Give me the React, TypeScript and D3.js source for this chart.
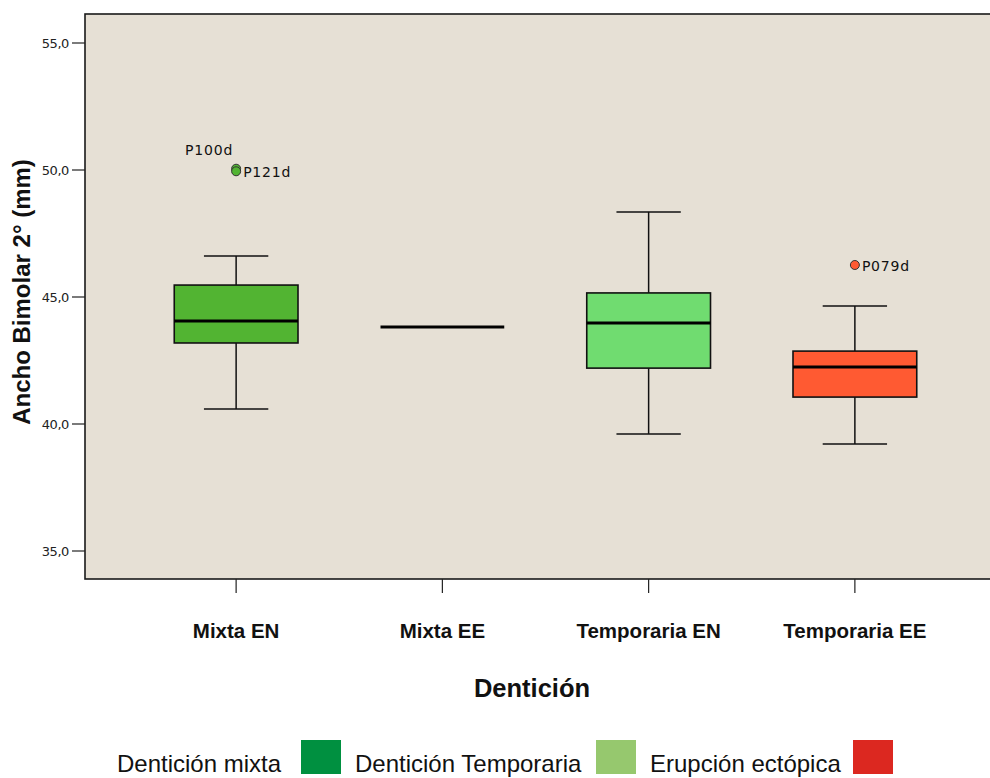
import React from "react";
import * as d3 from "d3";

const categories = ["Mixta EN", "Mixta EE", "Temporaria EN", "Temporaria EE"];
const whiskerLow = [40.59, 43.82, 39.61, 39.21];
const q1 = [43.19, 43.82, 42.2, 41.06];
const median = [44.06, 43.82, 43.98, 42.24];
const q3 = [45.47, 43.82, 45.16, 42.87];
const whiskerHigh = [46.61, 43.82, 48.35, 44.65];
const boxColors = ["#52B432", "#70DC70", "#70DC70", "#FF5A32"];

const outlierCats = ["Mixta EN", "Mixta EN", "Temporaria EE"];
const outlierValues = [50.05, 49.95, 46.26];
const outlierLabels = ["P100d", "P121d", "P079d"];
const outlierLabelSide = ["left", "right", "right"];

const yTicks = [35, 40, 45, 50, 55];
const yTickLabels = ["35,0", "40,0", "45,0", "50,0", "55,0"];

const legendLabels = ["Dentición mixta", "Dentición Temporaria", "Erupción ectópica"];
const legendColors = ["#009040", "#96C86E", "#DC2820"];

export default function App() {
  const W = 990, H = 778;
  const plotLeft = 85, plotTop = 14, plotBottom = 579, plotRight = 992;
  const y = d3.scaleLinear().domain([35, 55]).range([551, 43]);
  const x = d3.scaleBand().domain(categories).range([133, 958]).padding(0);
  const cx = (c: string) => (x(c) as number) + x.bandwidth() / 2;
  const boxW = x.bandwidth() * 0.6;
  const capW = boxW * 0.52;

  const legendTextX = [117, 355, 650];
  const legendBoxX = [301, 596, 853];

  return (
    <svg width={W} height={H} style={{ position: "absolute", left: 0, top: 0, background: "#fff" }}
      fontFamily="Liberation Sans, Arial, sans-serif">
      <rect x={plotLeft} y={plotTop} width={plotRight - plotLeft} height={plotBottom - plotTop}
        fill="#E6E0D5" stroke="#1a1a1a" strokeWidth={1.6} />
      {/* y axis ticks */}
      {yTicks.map((t, i) => (
        <g key={t}>
          <line x1={72} x2={plotLeft} y1={y(t)} y2={y(t)} stroke="#222" strokeWidth={1.2} />
          <text x={69} y={y(t) + 4.5} textAnchor="end" fontSize={13} fill="#222"
            fontFamily="DejaVu Sans, sans-serif" letterSpacing={-0.4}>{yTickLabels[i]}</text>
        </g>
      ))}
      {/* x ticks */}
      {categories.map((c) => (
        <g key={c}>
          <line x1={cx(c)} x2={cx(c)} y1={plotBottom} y2={593} stroke="#222" strokeWidth={1.2} />
          <text x={cx(c)} y={638} textAnchor="middle" fontSize={20.5} fontWeight="bold" fill="#111">{c}</text>
        </g>
      ))}
      {/* boxes */}
      {categories.map((c, i) => {
        const xc = cx(c);
        const single = q1[i] === q3[i];
        return (
          <g key={"b" + c}>
            {!single && (
              <>
                <line x1={xc} x2={xc} y1={y(whiskerHigh[i])} y2={y(q3[i])} stroke="#111" strokeWidth={1.5} />
                <line x1={xc} x2={xc} y1={y(q1[i])} y2={y(whiskerLow[i])} stroke="#111" strokeWidth={1.5} />
                <line x1={xc - capW / 2} x2={xc + capW / 2} y1={y(whiskerHigh[i])} y2={y(whiskerHigh[i])} stroke="#111" strokeWidth={1.5} />
                <line x1={xc - capW / 2} x2={xc + capW / 2} y1={y(whiskerLow[i])} y2={y(whiskerLow[i])} stroke="#111" strokeWidth={1.5} />
                <rect x={xc - boxW / 2} y={y(q3[i])} width={boxW} height={y(q1[i]) - y(q3[i])}
                  fill={boxColors[i]} stroke="#111" strokeWidth={1.6} />
              </>
            )}
            <line x1={xc - boxW / 2} x2={xc + boxW / 2} y1={y(median[i])} y2={y(median[i])} stroke="#000" strokeWidth={3} />
          </g>
        );
      })}
      {/* outliers */}
      {outlierValues.map((v, i) => {
        const c = outlierCats[i];
        const xc = cx(c);
        const col = boxColors[categories.indexOf(c)];
        return (
          <g key={"o" + i}>
            <circle cx={xc} cy={y(v)} r={4.5} fill={col} stroke="#333" strokeWidth={1} />
            {outlierLabelSide[i] === "left" ? (
              <text x={xc - 3} y={y(v) - 14} textAnchor="end" fontSize={14} fill="#111"
                letterSpacing={0.8} fontFamily="DejaVu Sans, sans-serif">{outlierLabels[i]}</text>
            ) : (
              <text x={xc + 7} y={y(v) + 6} textAnchor="start" fontSize={14} fill="#111"
                letterSpacing={0.8} fontFamily="DejaVu Sans, sans-serif">{outlierLabels[i]}</text>
            )}
          </g>
        );
      })}
      {/* axis titles */}
      <text transform={`translate(30,292) rotate(-90)`} textAnchor="middle"
        fontSize={24} fontWeight="bold" fill="#111">
        Ancho Bimolar 2° (mm)
      </text>
      <text x={532} y={697} textAnchor="middle" fontSize={25.5} fontWeight="bold" fill="#111">Dentición</text>
      {/* legend */}
      {legendLabels.map((l, i) => (
        <g key={l}>
          <text x={legendTextX[i]} y={772} fontSize={24} fill="#111">{l}</text>
          <rect x={legendBoxX[i]} y={740} width={40} height={34} fill={legendColors[i]} />
        </g>
      ))}
    </svg>
  );
}
